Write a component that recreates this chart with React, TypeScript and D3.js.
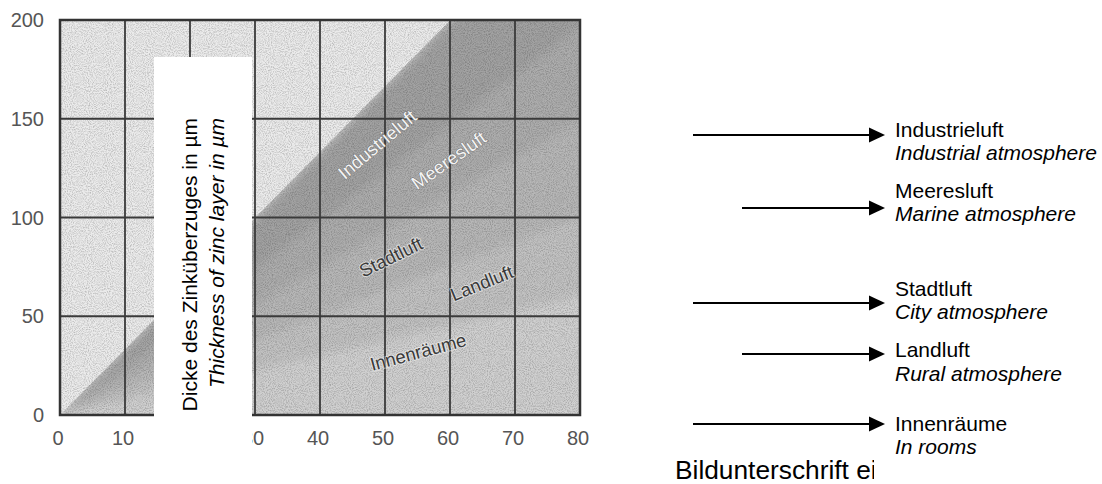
import React from "react";
import * as d3 from "d3";

// ---------- data ----------
const xTicks = [0, 10, 20, 30, 40, 50, 60, 70, 80];
const yTicks = [0, 50, 100, 150, 200];
const bandNames = ["Industrieluft", "Meeresluft", "Stadtluft", "Landluft", "Innenräume"];
// upper boundary slope (µm per year) of each band; lower boundary = next band's slope
const bandUpperSlopes = [3.33, 2.45, 1.85, 1.25, 0.75];
const bandLabelX = [48.8, 59.8, 50.9, 64.9, 55.1];
const bandLabelY = [137, 129, 80, 66.8, 31.9];
const bandLabelAngle = [-40, -35, -26, -22, -15];
const legendDe = ["Industrieluft", "Meeresluft", "Stadtluft", "Landluft", "Innenräume"];
const legendEn = ["Industrial atmosphere", "Marine atmosphere", "City atmosphere", "Rural atmosphere", "In rooms"];
const axisTitleDe = "Dicke des Zinküberzuges in µm";
const axisTitleEn = "Thickness of zinc layer in µm";
const caption = "Bildunterschrift ei";

// ---------- layout ----------
const W = 1102, H = 484;
const plot = { left: 60, right: 580, top: 20, bottom: 415 };
const bandFills = ["#a2a2a2", "#adadad", "#b7b7b7", "#c2c2c2", "#d0d0d0"];
const arrowY = [135, 208, 303, 354, 424];
const arrowX0 = [693, 742, 693, 742, 693];
const arrowTip = 885;
const deBase = [137, 198, 296, 357, 431];
const enBase = [160, 221, 319, 381, 454];

export default function App() {
  const x = d3.scaleLinear().domain([0, 80]).range([plot.left, plot.right]);
  const y = d3.scaleLinear().domain([0, 200]).range([plot.bottom, plot.top]);
  const font = "'Liberation Sans', Arial, Helvetica, sans-serif";

  const line = d3.line<[number, number]>().x(d => x(d[0])).y(d => y(d[1]));
  const wedge = (sUp: number, sLow: number) =>
    line([[0, 0], [200, 200 * sUp], [200, 200 * sLow], [0, 0]]) + "Z";

  const topSlope = bandUpperSlopes[0];

  return (
    <svg width={W} height={H} style={{ position: "absolute", left: 0, top: 0, background: "#fff" }}>
      <defs>
        <clipPath id="plotClip">
          <rect x={plot.left} y={plot.top} width={plot.right - plot.left} height={plot.bottom - plot.top} />
        </clipPath>
        <clipPath id="capClip">
          <rect x={0} y={440} width={874} height={44} />
        </clipPath>
        <filter id="blur" x="-10%" y="-10%" width="120%" height="120%">
          <feGaussianBlur stdDeviation="5" />
        </filter>
        <filter id="noise" x="0" y="0" width="100%" height="100%">
          <feTurbulence type="fractalNoise" baseFrequency="0.95" numOctaves="2" seed="3" result="t" />
          <feColorMatrix type="matrix" in="t"
            values="0 0 0 0 0  0 0 0 0 0  0 0 0 0 0  0 0 0 -2.2 1.35" />
        </filter>
      </defs>

      {/* plot background and bands */}
      <g clipPath="url(#plotClip)">
        <rect x={plot.left} y={plot.top} width={plot.right - plot.left} height={plot.bottom - plot.top} fill="#d4d4d4" />
        <g filter="url(#blur)">
          {bandNames.map((n, i) => (
            <path key={n} d={wedge(bandUpperSlopes[i], i + 1 < bandUpperSlopes.length ? bandUpperSlopes[i + 1] : 0)}
              fill={bandFills[i]} />
          ))}
        </g>
        {/* light region above the industrial line (sharp edge) */}
        <path d={line([[0, 0], [0, 400], [200, 400], [200, 200 * topSlope], [0, 0]]) + "Z"} fill="#ebebeb" />
        <rect x={plot.left} y={plot.top} width={plot.right - plot.left} height={plot.bottom - plot.top}
          filter="url(#noise)" opacity={0.2} />
      </g>

      {/* grid */}
      <g stroke="#3a3a3a" strokeWidth={1.8}>
        {xTicks.slice(1, -1).map(t => (
          <line key={"gx" + t} x1={x(t)} x2={x(t)} y1={plot.top} y2={plot.bottom} />
        ))}
        {yTicks.slice(1, -1).map(t => (
          <line key={"gy" + t} x1={plot.left} x2={plot.right} y1={y(t)} y2={y(t)} />
        ))}
      </g>
      <rect x={plot.left} y={plot.top} width={plot.right - plot.left} height={plot.bottom - plot.top}
        fill="none" stroke="#333" strokeWidth={2.5} />

      {/* band labels */}
      {bandNames.map((n, i) => {
        const light = i < 2;
        return (
          <text key={"bl" + n}
            transform={`translate(${x(bandLabelX[i])},${y(bandLabelY[i])}) rotate(${bandLabelAngle[i]})`}
            textAnchor="middle" dominantBaseline="central"
            fontFamily={font} fontSize={18.5}
            fill={light ? "#f4f4f4" : "#3a3a3a"}
            stroke={light ? "#777" : "rgba(255,255,255,0.55)"}
            strokeWidth={light ? 1 : 2}
            style={{ paintOrder: "stroke" }}>
            {n}
          </text>
        );
      })}

      {/* tick labels */}
      <g fontFamily={font} fontSize={20} fill="#555">
        {yTicks.map(t => (
          <text key={"ty" + t} x={44} y={y(t)} textAnchor="end" dominantBaseline="central">{t}</text>
        ))}
        {xTicks.map(t => (
          <text key={"tx" + t} x={x(t) - 2} y={438} textAnchor="middle" dominantBaseline="central">{t}</text>
        ))}
      </g>

      {/* white overlay box with axis title */}
      <rect x={154} y={57} width={98} height={420} fill="#fff" />
      <g fontFamily={font} fontSize={21} fill="#000">
        <text transform="translate(197,118) rotate(-90)" textAnchor="end">{axisTitleDe}</text>
        <text transform="translate(224,118) rotate(-90)" textAnchor="end" fontStyle="italic">{axisTitleEn}</text>
      </g>

      {/* arrows + legend texts */}
      <g fontFamily={font} fontSize={21} fill="#000">
        {legendDe.map((d, i) => (
          <g key={"lg" + i}>
            <line x1={arrowX0[i]} x2={arrowTip - 14} y1={arrowY[i]} y2={arrowY[i]} stroke="#000" strokeWidth={2} />
            <path d={`M${arrowTip},${arrowY[i]} L${arrowTip - 16},${arrowY[i] - 7.5} L${arrowTip - 16},${arrowY[i] + 7.5} Z`} fill="#000" />
            <text x={895} y={deBase[i]}>{d}</text>
            <text x={895} y={enBase[i]} fontStyle="italic">{legendEn[i]}</text>
          </g>
        ))}
      </g>

      {/* cropped caption */}
      <g clipPath="url(#capClip)">
        <text x={675} y={479} fontFamily={font} fontSize={26.3} fill="#000">{caption}</text>
      </g>
    </svg>
  );
}
